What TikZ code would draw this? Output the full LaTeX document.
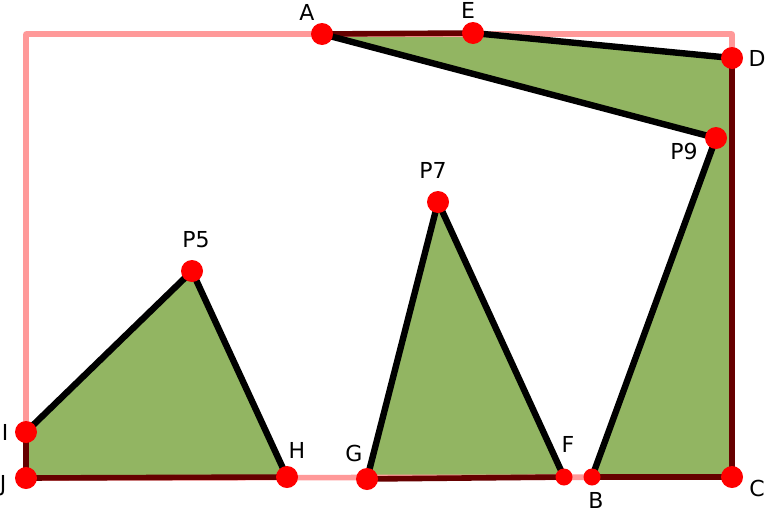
\documentclass[tikz,border=0pt]{standalone}
\usepackage{fontspec}
\setmainfont{DejaVu Sans}
\definecolor{fieldgreen}{HTML}{92B562}
\definecolor{edgepink}{HTML}{FF9999}
\definecolor{edgered}{HTML}{660000}

\begin{document}
\begin{tikzpicture}[x=0.5pt,y=-0.5pt,
    wall/.style={line width=2.8pt, edgered, line join=round},
    open/.style={line width=2.8pt, edgepink, line join=round},
    cutline/.style={line width=3.2pt, black, line join=round},
    dot/.style={circle, fill=red, inner sep=0pt, minimum size=11pt},
    smalldot/.style={circle, fill=red, inner sep=0pt, minimum size=8.5pt},
    lbl/.style={font=\fontsize{11}{13}\selectfont, inner sep=0pt}]

        \useasboundingbox (0,0) rectangle (769,514);

        %corner points and cut points
        \coordinate (A) at (322,34);
        \coordinate (E) at (473,33);
        \coordinate (D) at (732,58);
        \coordinate (P9) at (716,138);
        \coordinate (P7) at (438,202);
        \coordinate (P5) at (192,271);
        \coordinate (I) at (26,432);
        \coordinate (J) at (26,478);
        \coordinate (H) at (287,477);
        \coordinate (G) at (367,479);
        \coordinate (F) at (564,477);
        \coordinate (B) at (592,477);
        \coordinate (C) at (732,477);
        \coordinate (TL) at (26,34);
        \coordinate (TR) at (732,34);

        %green pieces
        \fill [fieldgreen] (A) -- (E) -- (D) -- (C) -- (B) -- (P9) -- cycle;
        \fill [fieldgreen] (I) -- (P5) -- (H) -- (J) -- cycle;
        \fill [fieldgreen] (G) -- (P7) -- (F) -- cycle;

        %outer frame
        \draw [open] (J) -- (TL) -- (TR) -- (C) -- cycle;

        %frame parts that belong to a piece
        \draw [wall] (A) -- (E);
        \draw [wall] (D) -- (C) -- (B);
        \draw [wall] (G) -- (F);
        \draw [wall] (H) -- (J) -- (I);

        %cut lines
        \draw [cutline] (A) -- (P9);
        \draw [cutline] (E) -- (D);
        \draw [cutline] (I) -- (P5) -- (H);
        \draw [cutline] (G) -- (P7) -- (F);
        \draw [cutline] (B) -- (P9);

        %points
        \foreach \p in {A,E,D,P9,P7,P5,I,J,H,G,C}
            \node [dot] (dot\p) at (\p) {};
        \node [smalldot] (dotF) at (F) {};
        \node [smalldot] (dotB) at (B) {};

        %labels
        \node [lbl] (labA) at (307,12) {A};
        \node [lbl] (labE) at (468,10) {E};
        \node [lbl] (labD) at (757,58) {D};
        \node [lbl] (labP9) at (684,151) {P9};
        \node [lbl] (labP7) at (433,170) {P7};
        \node [lbl] (labP5) at (196,240) {P5};
        \node [lbl] (labI) at (5,432) {I};
        \node [lbl] (labJ) at (3,486) {J};
        \node [lbl] (labH) at (297,450) {H};
        \node [lbl] (labG) at (354,453) {G};
        \node [lbl] (labF) at (568,444) {F};
        \node [lbl] (labB) at (596,500) {B};
        \node [lbl] (labC) at (757,488) {C};

\end{tikzpicture}
\end{document}
